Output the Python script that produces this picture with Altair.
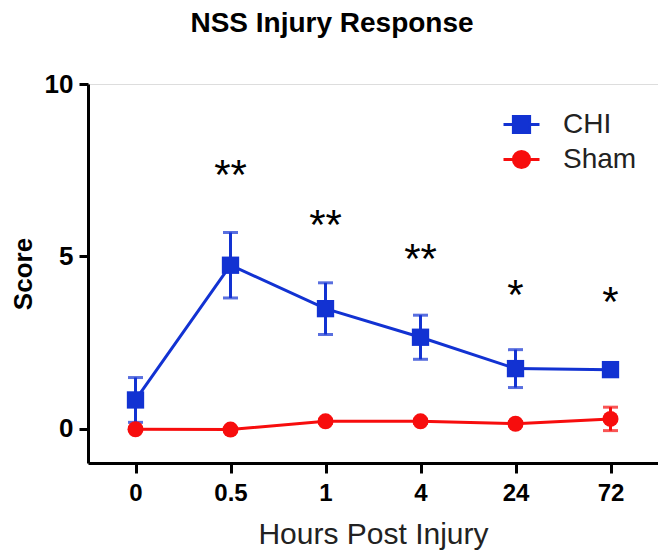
import altair as alt
import pandas as pd

# ---- data ----
hours = ["0", "0.5", "1", "4", "24", "72"]
groups = ["CHI", "Sham"]
chi_mean = [0.83, 4.74, 3.48, 2.65, 1.74, 1.71]
chi_err = [0.65, 0.95, 0.75, 0.64, 0.55, 0.10]
sham_mean = [-0.02, -0.03, 0.21, 0.21, 0.14, 0.28]
sham_err = [0.04, 0.04, 0.06, 0.06, 0.06, 0.34]
sig_hours = ["0.5", "1", "4", "24", "72"]
sig_labels = ["**", "**", "**", "*", "*"]
sig_y = [7.6, 6.15, 5.15, 4.1, 3.9]

colors = ["#1232d2", "#f70d0d"]
shapes = ["square", "circle"]
point_sizes = [300, 256]
FONT = "Liberation Sans"

rows = []
for g, means, errs in [("CHI", chi_mean, chi_err), ("Sham", sham_mean, sham_err)]:
    for h, m, e in zip(hours, means, errs):
        rows.append({"group": g, "hour": h, "mean": m, "lo": m - e, "hi": m + e})
df = pd.DataFrame(rows)
sig_df = pd.DataFrame({"hour": sig_hours, "label": sig_labels, "y": sig_y})

x_enc = alt.X(
    "hour:N", sort=hours,
    scale=alt.Scale(type="point", padding=0.5),
    axis=alt.Axis(title="Hours Post Injury", labelAngle=0, labelFontSize=24,
                  labelFontWeight="bold", labelFont=FONT, tickSize=10, tickWidth=3,
                  domainWidth=3, labelPadding=8, titleFontSize=30, titleFont=FONT,
                  titleFontWeight="normal", titlePadding=14, domainColor="black",
                  tickColor="black", labelColor="black", titleColor="#222"),
)
y_scale = alt.Scale(domain=[-1, 10], nice=False, zero=False)
y_axis = alt.Axis(title="Score", values=[0, 5, 10], labelFontSize=26, labelFontWeight="bold",
                  labelFont=FONT, tickSize=9, tickWidth=3, domainWidth=3, labelPadding=6,
                  titleFontSize=26, titleFont=FONT, titleFontWeight="bold", titlePadding=8,
                  domainColor="black", tickColor="black", labelColor="black",
                  titleColor="black", grid=False)

base = alt.Chart(df)
layers = []
for g, c, shp, sz in zip(groups, colors, shapes, point_sizes):
    sub = base.transform_filter(alt.datum.group == g)
    layers.append(sub.mark_line(strokeWidth=3, color=c).encode(
        x=x_enc, y=alt.Y("mean:Q", scale=y_scale, axis=y_axis)))
    layers.append(sub.mark_rule(strokeWidth=3, color=c).encode(
        x=x_enc, y=alt.Y("lo:Q"), y2="hi:Q"))
    layers.append(sub.mark_tick(thickness=3, size=15, color=c).encode(
        x=x_enc, y=alt.Y("hi:Q")))
    layers.append(sub.mark_tick(thickness=3, size=15, color=c).encode(
        x=x_enc, y=alt.Y("lo:Q")))
    layers.append(sub.mark_point(shape=shp, size=sz, filled=True, opacity=1, color=c).encode(
        x=x_enc, y=alt.Y("mean:Q")))

chi_path = "M-1,0H1M-0.45,-0.45H0.45V0.45H-0.45Z"
sham_path = "M-1,0H1M-0.45,0A0.45,0.45 0 1,0 0.45,0A0.45,0.45 0 1,0 -0.45,0Z"
leg = alt.Legend(title=None, orient="none", legendX=414, legendY=21, labelFontSize=28,
                 labelFont=FONT, labelColor="#222", symbolSize=1296, symbolStrokeWidth=3,
                 labelOffset=22, rowPadding=1, padding=0, symbolOpacity=1)
legend_layer = base.mark_point(strokeWidth=3, fillOpacity=1, opacity=1).encode(
    x=x_enc, y=alt.Y("mean:Q"),
    fill=alt.Fill("group:N", scale=alt.Scale(domain=groups, range=colors), legend=leg),
    stroke=alt.Stroke("group:N", scale=alt.Scale(domain=groups, range=colors), legend=leg),
    shape=alt.Shape("group:N", scale=alt.Scale(domain=groups, range=[chi_path, sham_path]), legend=leg),
).transform_filter("false")

stars = alt.Chart(sig_df).mark_text(fontSize=42, font=FONT, baseline="middle", dy=9,
                                    color="black").encode(
    x=alt.X("hour:N", sort=hours), y=alt.Y("y:Q"), text="label:N")

chart = alt.layer(legend_layer, *layers, stars).properties(
    width=570, height=379,
    title=alt.TitleParams("NSS Injury Response", fontSize=28, font=FONT, fontWeight="bold",
                          anchor="middle", dx=-41, offset=33, color="black"),
    autosize=alt.AutoSizeParams(type="none"),
    padding={"left": 80, "top": 76, "right": 0, "bottom": 89},
).configure_view(stroke=None).configure(background="white")

chart.save("out.html", embed_options={"renderer": "svg", "actions": False})
